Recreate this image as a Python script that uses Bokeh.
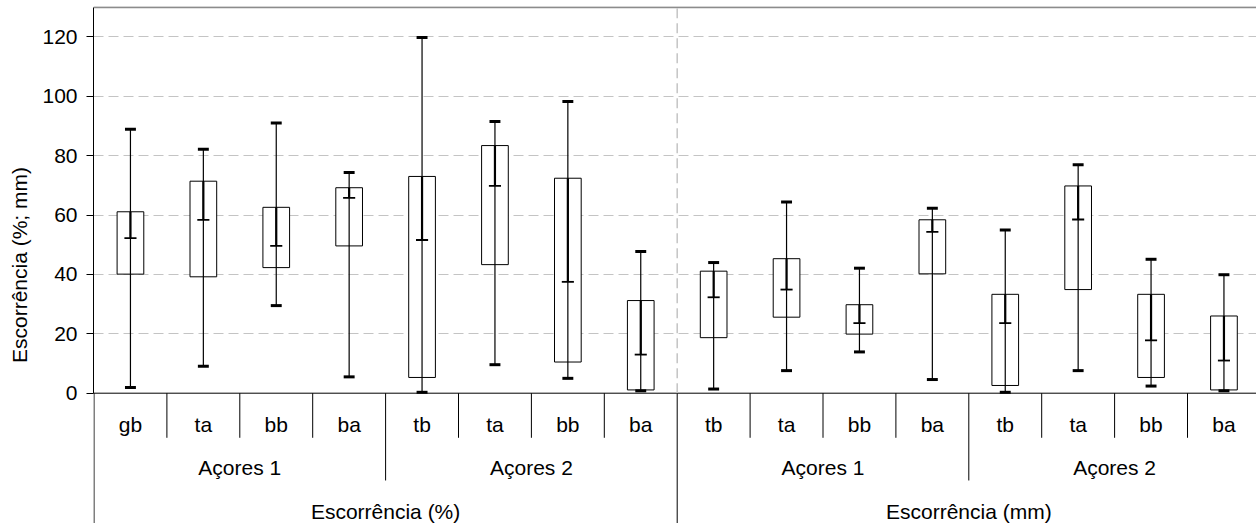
from bokeh.plotting import figure
from bokeh.models import Range1d, FixedTicker, ColumnDataSource
from bokeh.core.properties import value
from bokeh.embed import file_html
from bokeh.resources import INLINE

# ---------------- data ----------------
categories = ["gb", "ta", "bb", "ba", "tb", "ta", "bb", "ba",
              "tb", "ta", "bb", "ba", "tb", "ta", "bb", "ba"]
groups = ["Açores 1", "Açores 2", "Açores 1", "Açores 2"]
panels = ["Escorrência (%)", "Escorrência (mm)"]

min_v = [1.9, 9.1, 29.5, 5.5, 0.3, 9.6, 5.0, 0.8, 1.4, 7.6, 13.9, 4.6, 0.3, 7.6, 2.4, 0.8]
q1_v = [40.1, 39.2, 42.3, 49.6, 5.3, 43.3, 10.5, 1.1, 18.7, 25.6, 19.9, 40.2, 2.6, 34.9, 5.3, 1.1]
med_v = [52.2, 58.4, 49.6, 65.8, 51.6, 69.8, 37.5, 13.0, 32.3, 34.9, 23.6, 54.3, 23.6, 58.5, 17.8, 11.0]
q3_v = [61.1, 71.4, 62.6, 69.2, 73.0, 83.4, 72.4, 31.2, 41.1, 45.3, 29.8, 58.4, 33.3, 69.8, 33.3, 26.0]
max_v = [88.9, 82.2, 91.0, 74.3, 119.8, 91.5, 98.2, 47.7, 44.0, 64.4, 42.1, 62.3, 55.0, 76.9, 45.1, 39.9]

y_ticks = [0, 20, 40, 60, 80, 100, 120]
y_label = "Escorrência (%; mm)"

# ---------------- layout constants ----------------
W, H = 1256, 523
LEFT = 93
PX_PER_CAT = 72.9
PX_PER_UNIT = 2.969
x_start = -0.5 / PX_PER_CAT
x_end = x_start + (W - LEFT) / PX_PER_CAT
Y_TOP = 130
y_end = Y_TOP + 0.7 / PX_PER_UNIT
y_start = -(H - 392.7) / PX_PER_UNIT
FONT = "Liberation Sans"
FS = "21px"

n = len(categories)
xc = [i + 0.5 for i in range(n)]
src = ColumnDataSource(dict(x=xc, lo=min_v, q1=q1_v, med=med_v, q3=q3_v, hi=max_v))

p = figure(width=W, height=H, x_range=Range1d(x_start, x_end), y_range=Range1d(y_start, y_end),
           output_backend="svg", toolbar_location=None, x_axis_location=None,
           min_border_left=LEFT, min_border_right=0, min_border_top=6, min_border_bottom=0)
p.outline_line_color = None
p.background_fill_color = "white"
p.border_fill_color = "white"

# y axis
yax = p.yaxis[0]
yax.bounds = (0, Y_TOP)
yax.ticker = FixedTicker(ticks=y_ticks)
yax.axis_label = y_label
yax.axis_label_text_font = FONT
yax.axis_label_text_font_size = FS
yax.axis_label_text_font_style = "normal"
yax.axis_label_text_color = "black"
yax.axis_label_standoff = 8
yax.major_label_text_font = FONT
yax.major_label_text_font_size = FS
yax.major_label_text_color = "black"
yax.major_label_standoff = 9
yax.major_tick_out = 7
yax.major_tick_in = 0
yax.minor_tick_line_color = None
yax.axis_line_color = "black"
yax.major_tick_line_color = "black"

p.xgrid.visible = False
p.ygrid.ticker = FixedTicker(ticks=y_ticks[1:])
p.ygrid.grid_line_color = "#c4c4c4"
p.ygrid.grid_line_dash = "10 5"
p.ygrid.grid_line_width = 1

# frame lines
p.segment(x0=[x_start], y0=[Y_TOP], x1=[x_end], y1=[Y_TOP], line_color="#8c8c8c", line_width=2)
p.segment(x0=[x_start], y0=[0], x1=[x_end], y1=[0], line_color="black", line_width=1)
p.segment(x0=[8], y0=[0], x1=[8], y1=[Y_TOP], line_color="#c4c4c4", line_width=1.5, line_dash="10 5")

# boxes
bw = 0.366
p.vbar(x="x", width=bw, bottom="q1", top="q3", source=src,
       fill_color="white", line_color="black", line_width=1)
p.segment(x0="x", y0="lo", x1="x", y1="hi", source=src, line_color="black", line_width=1.2)
p.segment(x0="x", y0="med", x1="x", y1="q3", source=src, line_color="black", line_width=2.2)
cap = 0.075
src_caps = ColumnDataSource(dict(x0=[v - cap for v in xc], x1=[v + cap for v in xc],
                                 lo=min_v, hi=max_v, med=med_v))
p.segment(x0="x0", y0="hi", x1="x1", y1="hi", source=src_caps, line_color="black", line_width=3)
p.segment(x0="x0", y0="lo", x1="x1", y1="lo", source=src_caps, line_color="black", line_width=3)
mc = 0.083
p.segment(x0=[v - mc for v in xc], y0=med_v, x1=[v + mc for v in xc], y1=med_v,
          line_color="black", line_width=1.8)

# ---------------- multi-level category axis (below 0) ----------------
def px2y(px):
    return -(px - 392.7) / PX_PER_UNIT

ROW1, ROW2, ROW3 = px2y(424.3), px2y(467.3), px2y(510.7)
END1, END2, END3 = px2y(437.3), px2y(480.0), y_start

div_x, div_end = [], []
for i in range(0, n):
    if i % 8 == 0:
        e = END3
    elif i % 4 == 0:
        e = END2
    else:
        e = END1
    div_x.append(i)
    div_end.append(e)
p.segment(x0=div_x, y0=[0] * n, x1=div_x, y1=div_end, line_color="black", line_width=1)

p.text(x=xc, y=[ROW1] * n, text=categories, text_font=value(FONT), text_font_size=value(FS),
       text_align="center", text_baseline="middle", text_color="black")
gx = [4 * g + 2 for g in range(len(groups))]
p.text(x=gx, y=[ROW2] * len(groups), text=groups, text_font=value(FONT), text_font_size=value(FS),
       text_align="center", text_baseline="middle", text_color="black")
px = [8 * k + 4 for k in range(len(panels))]
p.text(x=px, y=[ROW3] * len(panels), text=panels, text_font=value(FONT), text_font_size=value(FS),
       text_align="center", text_baseline="middle", text_color="black")

open("out.html", "w").write(file_html(p, INLINE))
